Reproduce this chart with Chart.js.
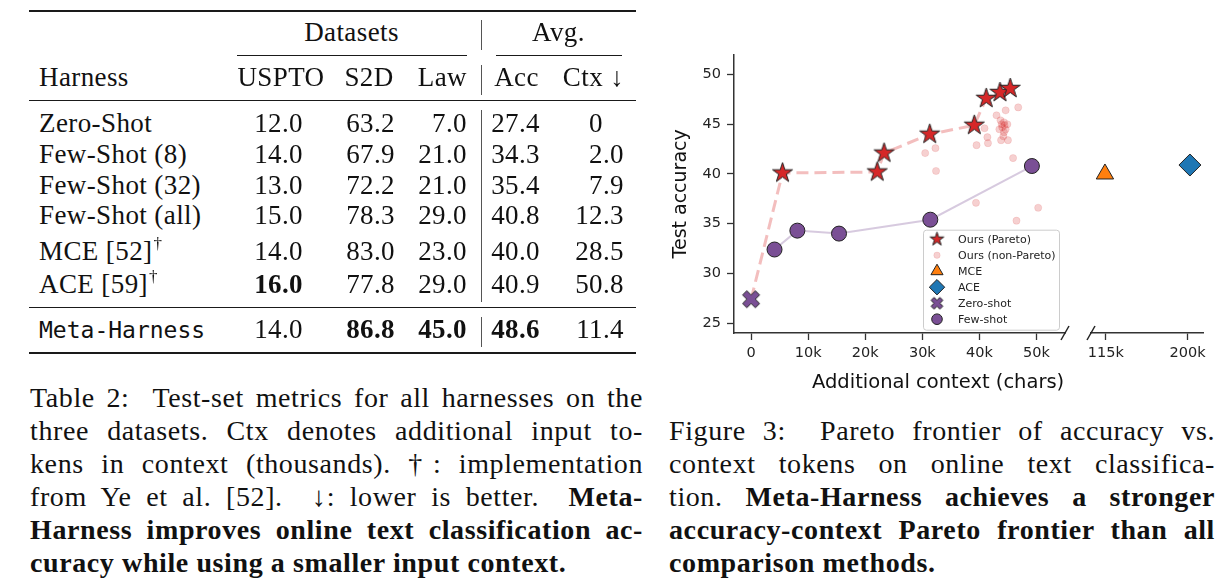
<!DOCTYPE html>
<html>
<head>
<meta charset="utf-8">
<title>Table 2 and Figure 3</title>
<script src="https://cdn.jsdelivr.net/npm/chart.js@4.4.1/dist/chart.umd.min.js"></script>
<style>
  html, body { margin: 0; padding: 0; background: #fff; }
  body { position: relative; width: 1232px; height: 582px; overflow: hidden; color: #111; }
  .t { position: absolute; white-space: nowrap; line-height: 1; font-family: "Liberation Serif", serif; font-size: 27px; letter-spacing: 0.4px; }
  .t.mono { font-family: "DejaVu Sans Mono", monospace; font-size: 23px; letter-spacing: 0; }
  .t sup { font-size: 17px; vertical-align: 0; position: relative; top: -11px; margin-left: 1px; }
  .rule { position: absolute; background: #1a1a1a; }
  .vbar { position: absolute; width: 1px; background: #555; }
  .cap { position: absolute; font-family: "Liberation Serif", serif; font-size: 28px; line-height: 33px; letter-spacing: 0.6px; }
  .cap div { text-align: justify; text-align-last: justify; }
  .cap div.last { text-align-last: left; }
  #chartBox { position: absolute; left: 660px; top: 40px; }
  #xTitle { position: absolute; left: 812px; top: 372px; font: 19.5px "DejaVu Sans", sans-serif; line-height: 1; color: #111; white-space: nowrap; }
</style>
</head>
<body>
<div id="chartBox"><canvas id="fig" width="560" height="360"></canvas></div>
<div id="xTitle">Additional context (chars)</div>

<div class="cap" id="capL" style="left:30px; top:381px; width:613px;">
  <div>Table 2:&nbsp; Test-set metrics for all harnesses on the</div>
  <div>three datasets. Ctx denotes additional input to-</div>
  <div>kens in context (thousands). †: implementation</div>
  <div>from Ye et al. [52].&nbsp; ↓: lower is better.&nbsp; <b>Meta-</b></div>
  <div><b>Harness improves online text classification ac-</b></div>
  <div class="last"><b>curacy while using a smaller input context.</b></div>
</div>

<div class="cap" id="capR" style="left:669px; top:414px; width:546px;">
  <div>Figure 3:&nbsp; Pareto frontier of accuracy vs.</div>
  <div>context tokens on online text classifica-</div>
  <div>tion. <b>Meta-Harness achieves a stronger</b></div>
  <div><b>accuracy-context Pareto frontier than all</b></div>
  <div class="last"><b>comparison methods.</b></div>
</div>

<script>
// ---- table data ----
const harness = ["Zero-Shot", "Few-Shot (8)", "Few-Shot (32)", "Few-Shot (all)", "MCE [52]†", "ACE [59]†", "Meta-Harness"];
const uspto  = [12.0, 14.0, 13.0, 15.0, 14.0, 16.0, 14.0];
const s2d    = [63.2, 67.9, 72.2, 78.3, 83.0, 77.8, 86.8];
const law    = [7.0, 21.0, 21.0, 29.0, 23.0, 29.0, 45.0];
const accAvg = [27.4, 34.3, 35.4, 40.8, 40.0, 40.9, 48.6];
const ctxAvg = [0, 2.0, 7.9, 12.3, 28.5, 50.8, 11.4];

// ---- figure data (x in chars) ----
const paretoX = [5500, 22100, 23300, 31300, 39100, 41200, 43600, 45400];
const paretoY = [40.1, 40.2, 42.1, 44.0, 44.9, 47.6, 48.2, 48.6];
const nonParetoX = [30500, 32300, 32400, 39500, 40900, 41400, 41500, 43000, 44600, 46800, 43700, 44300, 44000,
                    44600, 43500, 44300, 44900, 43800, 45000, 44200, 44400, 43900, 45900, 39400, 50300, 46500];
const nonParetoY = [42.1, 42.6, 40.3, 42.9, 44.6, 43.7, 43.1, 45.9, 46.4, 46.7, 45.4, 45.2, 44.7,
                    44.5, 44.5, 44.2, 45.0, 43.4, 43.4, 43.8, 44.9, 45.0, 41.6, 37.1, 36.6, 35.3];
const mceX = [114000], mceY = [40.0];
const aceX = [202400], aceY = [40.9];
const zeroShotX = [0], zeroShotY = [27.4];
const fewShotX = [4100, 8100, 15400, 31400, 49200];
const fewShotY = [32.4, 34.3, 34.0, 35.4, 40.8];
const xTicksNear = [0, 10000, 20000, 30000, 40000, 50000];
const xTicksFar = [115000, 200000];
const yTicks = [25, 30, 35, 40, 45, 50];

// ---- table ----
const page = document.body;
function cell(html, x, midY, align, opts) {
  opts = opts || {};
  const d = document.createElement("div");
  d.className = "t" + (opts.mono ? " mono" : "");
  d.innerHTML = html;
  if (opts.bold) d.style.fontWeight = "bold";
  const fs = opts.mono ? 23 : 27;
  d.style.top = (midY - fs * (opts.mono ? 0.48 : 0.507)) + "px";
  if (align === "left") {
    d.style.left = x + "px";
  } else if (align === "right") {
    d.style.left = (x - 300) + "px"; d.style.width = "300px"; d.style.textAlign = "right";
  } else {
    d.style.left = (x - 150) + "px"; d.style.width = "300px"; d.style.textAlign = "center";
  }
  page.appendChild(d);
}
function rule(x, y, w, h, cls) {
  const d = document.createElement("div");
  d.className = cls || "rule";
  d.style.left = x + "px"; d.style.top = y + "px";
  if (w) d.style.width = w + "px";
  d.style.height = h + "px";
  page.appendChild(d);
}

rule(29, 10, 607, 2);
cell("Datasets", 351.5, 32.5, "center");
cell("Avg.", 558.5, 32.5, "center");
rule(237, 55, 230, 1);
rule(496, 55, 126, 1);
cell("Harness", 39, 77.7, "left");
cell("USPTO", 281, 77.7, "center");
cell("S2D", 369, 77.7, "center");
cell("Law", 467, 77.7, "right");
cell("Acc", 516.5, 77.7, "center");
cell("Ctx ↓", 593.5, 77.7, "center");
rule(29, 100, 607, 1.3);
rule(481, 20, 0, 30, "vbar");
rule(481, 65, 0, 30, "vbar");
rule(481, 110, 0, 192, "vbar");
rule(481, 317, 0, 30, "vbar");
rule(29, 307, 607, 1.3);
rule(29, 351.5, 607, 2);

const rowMid = [123.3, 155, 185.3, 215.8, 251.7, 285, 330];
const numCols = [uspto, s2d, law, accAvg, ctxAvg];
const colRight = [303, 395, 467, 540, 624];
const boldBest = [true, true, true, true, false];
const fmt = v => v === 0 ? '0<span style="visibility:hidden">.0</span>' : v.toFixed(1);

harness.forEach((name, i) => {
  const isOurs = name === "Meta-Harness";
  cell(name.replace("†", "<sup>†</sup>"), 39, rowMid[i], "left", { mono: isOurs });
  numCols.forEach((col, c) => {
    const best = boldBest[c] && col[i] === Math.max(...col);
    cell(fmt(col[i]), colRight[c], rowMid[i], "right", { bold: best });
  });
});

// ---- figure ----
const red = "#d62728", orange = "#ff7f0e", blue = "#1f77b4", purple = "#7a4f95", edge = "#222";
const pts = (xs, ys) => xs.map((x, i) => ({ x: x, y: ys[i] }));

function starMarker(R, fill) {
  const size = Math.ceil(2 * R + 4);
  const c = document.createElement("canvas");
  c.width = c.height = size;
  const g = c.getContext("2d");
  g.beginPath();
  for (let i = 0; i < 10; i++) {
    const r = i % 2 ? R * 0.382 : R;
    const a = -Math.PI / 2 + i * Math.PI / 5;
    g.lineTo(size / 2 + r * Math.cos(a), size / 2 + r * Math.sin(a));
  }
  g.closePath();
  g.fillStyle = fill; g.fill();
  g.lineWidth = 1; g.strokeStyle = edge; g.stroke();
  return c;
}
function xMarker(L, w, fill) {
  const size = Math.ceil(2 * L + 4);
  const c = document.createElement("canvas");
  c.width = c.height = size;
  const g = c.getContext("2d");
  const plus = [[w, L], [w, w], [L, w], [L, -w], [w, -w], [w, -L], [-w, -L], [-w, -w], [-L, -w], [-L, w], [-w, w], [-w, L]];
  const k = Math.SQRT1_2;
  g.beginPath();
  plus.forEach(([px, py]) => g.lineTo(size / 2 + (px - py) * k, size / 2 + (px + py) * k));
  g.closePath();
  g.fillStyle = fill; g.fill();
  g.lineWidth = 1; g.strokeStyle = edge; g.stroke();
  return c;
}

const starBig = starMarker(10.5, red), starSmall = starMarker(7.2, red);
const crossBig = xMarker(9, 3, purple), crossSmall = xMarker(6.2, 2.1, purple);

const tickFont = { size: 14.5 };
const xAxisCommon = {
  type: "linear",
  position: "bottom",
  stack: "xs",
  border: { display: true, color: "#333", width: 1.5 },
  grid: { drawOnChartArea: false, drawTicks: true, tickLength: 7, tickWidth: 1.3, tickColor: "#333" },
  ticks: { font: tickFont, color: "#222", padding: 5, autoSkip: false, maxRotation: 0,
           callback: v => v === 0 ? "0" : (v / 1000) + "k" },
  afterFit: s => { s.height = 67; }
};

const extras = {
  id: "extras",
  afterDatasetsDraw(chart) {
    const { ctx, chartArea, scales } = chart;
    ctx.save();
    // axis break marks
    ctx.strokeStyle = "#222"; ctx.lineWidth = 1.5;
    [scales.x.right, scales.x2.left].forEach(px => {
      ctx.beginPath();
      ctx.moveTo(px - 4, chartArea.bottom + 7);
      ctx.lineTo(px + 4, chartArea.bottom - 7);
      ctx.stroke();
    });
    // legend box
    const lx = chartArea.left + 189, ly = chartArea.top + 175, lw = 136, lh = 100;
    ctx.beginPath();
    ctx.roundRect(lx + 0.5, ly + 0.5, lw, lh, 3);
    ctx.fillStyle = "rgba(255,255,255,0.8)"; ctx.fill();
    ctx.strokeStyle = "#cccccc"; ctx.lineWidth = 1; ctx.stroke();
    chart.data.datasets.filter(d => d.legendStyle).forEach((d, i) => {
      const cy = ly + 9.5 + 16 * i, cx = lx + 14;
      ctx.fillStyle = d.backgroundColor; ctx.strokeStyle = d.borderColor; ctx.lineWidth = d.borderWidth;
      Chart.helpers.drawPoint(ctx, { pointStyle: d.legendStyle, radius: d.legendRadius, rotation: 0, borderWidth: d.borderWidth }, cx, cy);
      ctx.fillStyle = "#222";
      ctx.font = '11px "DejaVu Sans"';
      ctx.textBaseline = "middle";
      ctx.fillText(d.label, lx + 35, cy + 0.5);
    });
    ctx.restore();
  }
};

Chart.defaults.font.family = '"DejaVu Sans", sans-serif';

new Chart(document.getElementById("fig"), {
  type: "scatter",
  data: {
    datasets: [
      { label: "Ours (Pareto)", data: pts(paretoX, paretoY), pointStyle: starBig, legendStyle: starSmall,
        backgroundColor: red, borderColor: edge, borderWidth: 1, order: 0 },
      { label: "Ours (non-Pareto)", data: pts(nonParetoX, nonParetoY), pointStyle: "circle", pointRadius: 3.6,
        legendStyle: "circle", legendRadius: 3.2,
        backgroundColor: "rgba(214,39,40,0.22)", borderColor: "rgba(214,39,40,0.22)", borderWidth: 0.5, order: 4 },
      { label: "MCE", data: pts(mceX, mceY), xAxisID: "x2", pointStyle: "triangle", pointRadius: 10,
        legendStyle: "triangle", legendRadius: 7, backgroundColor: orange, borderColor: edge, borderWidth: 1, order: 1 },
      { label: "ACE", data: pts(aceX, aceY), xAxisID: "x2", pointStyle: "rectRot", pointRadius: 11,
        legendStyle: "rectRot", legendRadius: 7.7, backgroundColor: blue, borderColor: edge, borderWidth: 1, order: 1 },
      { label: "Zero-shot", data: pts(zeroShotX, zeroShotY), pointStyle: crossBig, legendStyle: crossSmall,
        backgroundColor: purple, borderColor: edge, borderWidth: 1, order: 2 },
      { label: "Few-shot", data: pts(fewShotX, fewShotY), pointStyle: "circle", pointRadius: 7.5,
        legendStyle: "circle", legendRadius: 5.3, backgroundColor: purple, borderColor: edge, borderWidth: 1, order: 3 },
      { label: "pareto frontier", data: pts(zeroShotX.concat(paretoX), zeroShotY.concat(paretoY)), showLine: true,
        pointRadius: 0, borderColor: "rgba(214,39,40,0.3)", borderWidth: 3, borderDash: [12, 6], order: 6 },
      { label: "few-shot line", data: pts(fewShotX, fewShotY), showLine: true,
        pointRadius: 0, borderColor: "rgba(122,79,149,0.3)", borderWidth: 2, order: 5 }
    ]
  },
  options: {
    responsive: false,
    animation: false,
    layout: { padding: { top: 13, right: 17, bottom: 0, left: 0 } },
    plugins: { legend: { display: false }, tooltip: { enabled: false } },
    scales: {
      x: Object.assign({}, xAxisCommon, {
        stackWeight: 331, min: -3000, max: 55000,
        afterBuildTicks: s => { s.ticks = xTicksNear.map(v => ({ value: v })); }
      }),
      xGap: { type: "linear", position: "bottom", stack: "xs", stackWeight: 26, display: false,
              afterFit: s => { s.height = 67; } },
      x2: Object.assign({}, xAxisCommon, {
        stackWeight: 112, min: 99500, max: 216000,
        afterBuildTicks: s => { s.ticks = xTicksFar.map(v => ({ value: v })); }
      }),
      y: {
        type: "linear", min: 24, max: 52,
        border: { display: true, color: "#333", width: 1.5 },
        grid: { drawOnChartArea: false, drawTicks: true, tickLength: 7, tickWidth: 1.3, tickColor: "#333" },
        ticks: { font: tickFont, color: "#222", padding: 6 },
        afterBuildTicks: s => { s.ticks = yTicks.map(v => ({ value: v })); },
        title: { display: true, text: "Test accuracy", color: "#111", font: { size: 19 }, padding: { top: 10, bottom: 0 } },
        afterFit: s => { s.width = 74; }
      }
    }
  },
  plugins: [extras]
});
</script>
</body>
</html>
